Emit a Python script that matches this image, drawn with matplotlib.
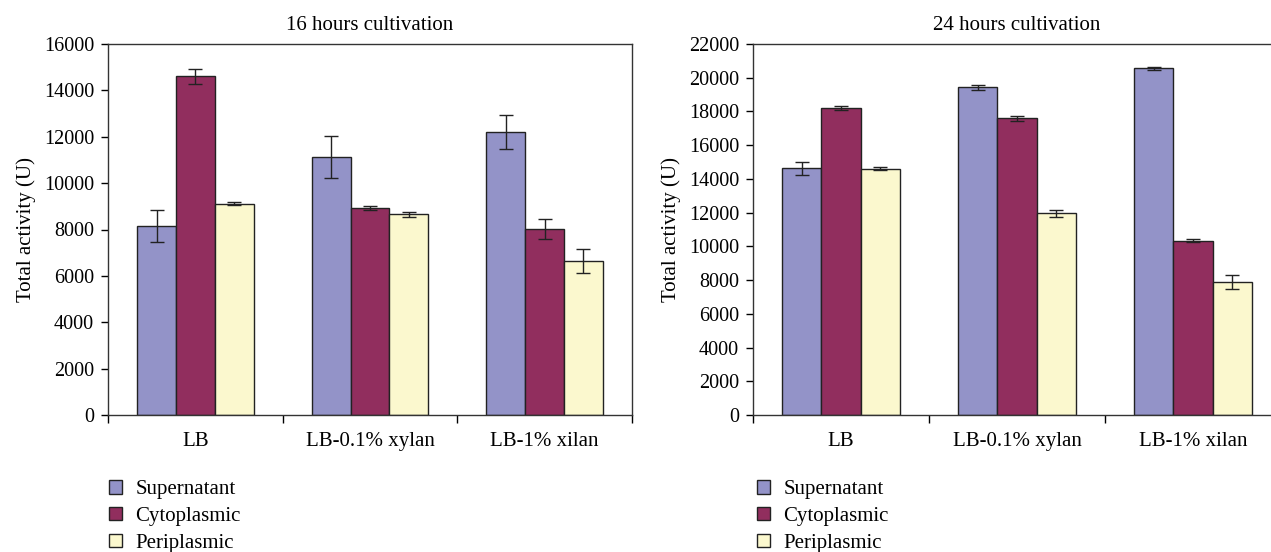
import numpy as np
import matplotlib.pyplot as plt
from matplotlib.patches import Patch

plt.rcParams['font.family'] = ['Liberation Serif', 'DejaVu Serif']

categories = ["LB", "LB-0.1% xylan", "LB-1% xilan"]
series = ["Supernatant", "Cytoplasmic", "Periplasmic"]

# 16 hours cultivation
sup_16 = [8150, 11120, 12200]
cyt_16 = [14600, 8930, 8030]
per_16 = [9120, 8650, 6650]
sup_16_err = [700, 900, 740]
cyt_16_err = [340, 80, 440]
per_16_err = [50, 100, 520]

# 24 hours cultivation
sup_24 = [14620, 19430, 20560]
cyt_24 = [18210, 17590, 10330]
per_24 = [14610, 11970, 7880]
sup_24_err = [370, 140, 90]
cyt_24_err = [100, 130, 90]
per_24_err = [90, 210, 420]

colors = ['#9393C8', '#912E5E', '#FBF8CE']

W, H = 1271, 552
fig = plt.figure(figsize=(W / 100, H / 100), dpi=100)


def draw_panel(rect, title, vals, errs, ymax, step):
    ax = fig.add_axes(rect)
    x = np.arange(len(categories))
    bw = 1 / 4.5
    for k, (v, e) in enumerate(zip(vals, errs)):
        ax.bar(x + (k - 1) * bw, v, width=bw, color=colors[k],
               edgecolor='#222222', linewidth=1.0, zorder=2)
        ax.errorbar(x + (k - 1) * bw, v, yerr=e, fmt='none', ecolor='#222222',
                    elinewidth=1.0, capsize=5, capthick=1.0, zorder=3)
    ax.set_xlim(-0.5, len(categories) - 0.5)
    ax.set_ylim(0, ymax)
    ax.set_yticks(np.arange(0, ymax + 1, step))
    ax.set_xticks(np.arange(-0.5, len(categories), 1.0))
    ax.set_xticklabels([])
    ax.set_xticks(x, minor=True)
    ax.set_xticklabels(categories, minor=True, fontsize=15)
    ax.tick_params(axis='x', which='major', direction='out', length=6, width=1)
    ax.tick_params(axis='x', which='minor', length=0, pad=12)
    ax.tick_params(axis='y', direction='out', length=5, width=1, labelsize=14.5, pad=5)
    for s in ax.spines.values():
        s.set_linewidth(1.0)
        s.set_color('#333333')
    ax.set_ylabel("Total activity (U)", fontsize=15, labelpad=6)
    ax.set_title(title, fontsize=15, pad=10)
    return ax


ax1 = draw_panel([108 / W, 137 / H, 524 / W, 371 / H], "16 hours cultivation",
                 [sup_16, cyt_16, per_16], [sup_16_err, cyt_16_err, per_16_err], 16000, 2000)
ax2 = draw_panel([753 / W, 137 / H, 528 / W, 371 / H], "24 hours cultivation",
                 [sup_24, cyt_24, per_24], [sup_24_err, cyt_24_err, per_24_err], 22000, 2000)

handles = [Patch(facecolor=c, edgecolor='#222222', linewidth=1.0, label=s)
           for c, s in zip(colors, series)]
for lx in (101 / W, 749 / W):
    fig.legend(handles=handles, loc='upper left', bbox_to_anchor=(lx, 1 - 472 / H),
               frameon=False, fontsize=15, handlelength=0.6, handleheight=0.6,
               handletextpad=0.65, labelspacing=0.37, borderaxespad=0)

fig.savefig("out.png", dpi=100)
